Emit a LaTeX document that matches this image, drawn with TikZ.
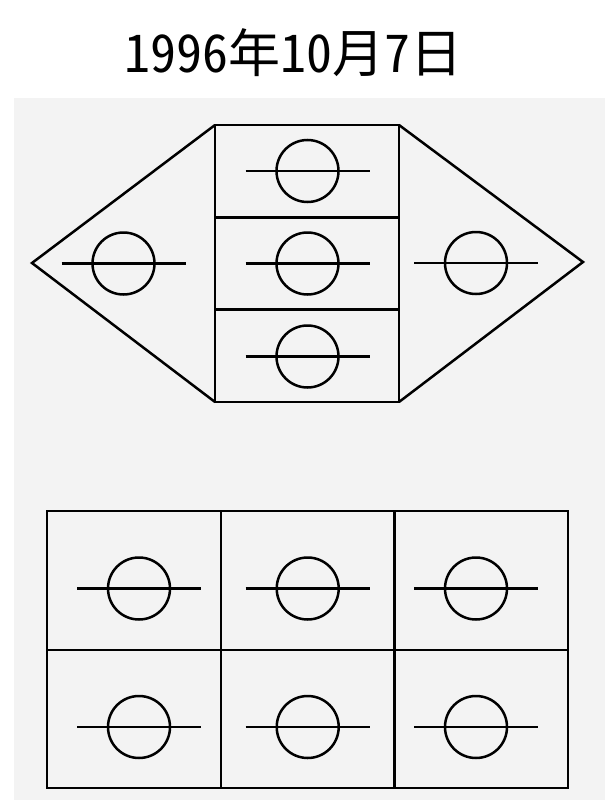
\documentclass[tikz,border=0pt]{standalone}
\usepackage{fontspec}
\newfontfamily\cjk[RawFeature=+hwid]{Noto Sans CJK JP}
\definecolor{paper}{RGB}{243,243,243}
\begin{document}
\begin{tikzpicture}[x=1pt,y=-1pt,
  ln/.style={line width=2.5pt,line join=miter},
  sym/.pic={\draw[ln] (0,0) circle (31); \draw[ln] (-62,0) -- (62,0);}]
\useasboundingbox (0,0) rectangle (605,800);
\fill[white] (0,0) rectangle (605,800);
\fill[paper] (14,98) rectangle (605,800);
\node[anchor=base,inner sep=0pt,font=\cjk\fontsize{52}{52}\selectfont] (title) at (293,72) {1996年10月7日};
% top figure
\draw[ln] (215,125) rectangle (399,402);
\draw[ln] (215,217.3) -- (399,217.3);
\draw[ln] (215,309.7) -- (399,309.7);
\draw[ln] (215,125) -- (32,263) -- (215,402);
\draw[ln] (399,125) -- (583,262) -- (399,402);
\pic at (307.5,171) {sym};
\pic at (307.5,263.5) {sym};
\pic at (307.5,356.5) {sym};
\pic at (123.5,263.5) {sym};
\pic at (476,263) {sym};
% bottom grid
\draw[ln] (47,511) rectangle (568,788);
\draw[ln] (47,650) -- (568,650);
\draw[ln] (221,511) -- (221,788);
\draw[ln] (394.5,511) -- (394.5,788);
\foreach \yy in {588.5,727}{
  \pic at (139,\yy) {sym};
  \pic at (307.7,\yy) {sym};
  \pic at (476,\yy) {sym};
}
\end{tikzpicture}
\end{document}
